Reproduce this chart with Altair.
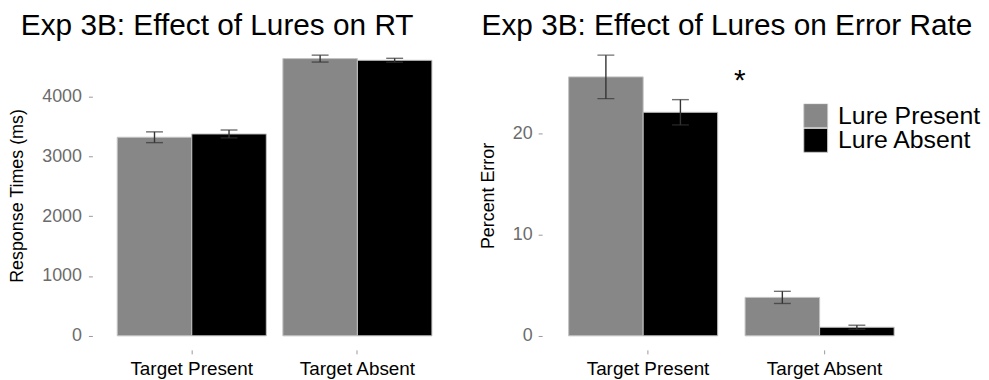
import altair as alt
import pandas as pd

conditions = ["Target Present", "Target Present", "Target Absent", "Target Absent"]
lures = ["Lure Present", "Lure Absent", "Lure Present", "Lure Absent"]
rt_mean = [3318, 3373, 4632, 4604]
rt_se = [90, 66, 58, 33]
err_mean = [25.6, 22.1, 3.8, 0.85]
err_se = [2.15, 1.25, 0.6, 0.2]

cond_order = ["Target Present", "Target Absent"]
lure_order = ["Lure Present", "Lure Absent"]
lure_colors = ["#878787", "#000000"]
rt_ticks = [0, 1000, 2000, 3000, 4000]
err_ticks = [0, 10, 20]

FONT = "Liberation Sans"


def make_df(mean, se):
    return pd.DataFrame({
        "cond": conditions,
        "lure": lures,
        "mean": mean,
        "lo": [m - s for m, s in zip(mean, se)],
        "hi": [m + s for m, s in zip(mean, se)],
    })


def panel(df, ytitle, ticks, legend, label_pad):
    top = max(df["hi"])
    dom = [-0.05 * top, 1.05 * top]
    yscale = alt.Scale(domain=dom, nice=False, zero=False)
    xenc = alt.X("cond:N", sort=cond_order,
                 scale=alt.Scale(paddingInner=0.1, paddingOuter=0.15),
                 axis=alt.Axis(title=None, labelAngle=0, labelFontSize=19,
                               labelColor="black", labelFont=FONT,
                               tickColor="#999999", tickSize=4, labelPadding=6,
                               domain=False))
    xoff = alt.XOffset("lure:N", sort=lure_order,
                       scale=alt.Scale(paddingInner=0, paddingOuter=0))
    yaxis = alt.Axis(values=ticks, title=ytitle, titleFontSize=18,
                     titleFont=FONT, titleFontWeight="normal", titleColor="black",
                     labelColor="#6b6b6b", labelFontSize=18, labelFont=FONT,
                     tickColor="#999999", tickSize=4, labelPadding=label_pad,
                     titlePadding=15, grid=False, domain=False, format="d")
    color = alt.Color("lure:N", sort=lure_order,
                      scale=alt.Scale(domain=lure_order, range=lure_colors),
                      legend=legend)
    base = alt.Chart(df)
    bars = base.mark_bar(stroke="#c4c4c4", strokeWidth=1).encode(
        x=xenc, xOffset=xoff,
        y=alt.Y("mean:Q", scale=yscale, axis=yaxis),
        y2=alt.datum(0),
        color=color,
    )
    rule = base.mark_rule(color="#333333", strokeWidth=1.4).encode(
        x=xenc, xOffset=xoff,
        y=alt.Y("lo:Q", scale=yscale, axis=yaxis),
        y2="hi:Q",
    )
    cap_lo = base.mark_tick(color="#333333", size=17, thickness=1.4).encode(
        x=xenc, xOffset=xoff,
        y=alt.Y("lo:Q", scale=yscale, axis=yaxis),
    )
    cap_hi = base.mark_tick(color="#333333", size=17, thickness=1.4).encode(
        x=xenc, xOffset=xoff,
        y=alt.Y("hi:Q", scale=yscale, axis=yaxis),
    )
    return [bars, rule, cap_lo, cap_hi], yscale, yaxis


rt_df = make_df(rt_mean, rt_se)
err_df = make_df(err_mean, err_se)

left_layers, _, _ = panel(rt_df, "Response Times (ms)", rt_ticks, None, 7)
right_legend = alt.Legend(title=None, orient="none", legendX=263, legendY=63,
                          symbolType="square", symbolSize=576,
                          symbolStrokeColor="#c4c4c4", symbolStrokeWidth=1,
                          symbolOpacity=1, labelFontSize=25, labelFont=FONT,
                          labelColor="black", labelOffset=10, rowPadding=-4,
                          clipHeight=24, padding=0)
right_layers, err_scale, err_axis = panel(err_df, "Percent Error", err_ticks, right_legend, 6)

star_df = pd.DataFrame({"label": ["*"], "val": [24.3]})
star = alt.Chart(star_df).mark_text(fontSize=30, font=FONT, color="black",
                                    baseline="alphabetic", align="center").encode(
    x=alt.value(199),
    y=alt.Y("val:Q", scale=err_scale, axis=err_axis),
    text="label:N",
)

left = alt.layer(*left_layers).properties(
    width=367, height=311,
    title=alt.TitleParams("Exp 3B: Effect of Lures on RT", fontSize=30, font=FONT,
                          fontWeight="normal", color="black", anchor="start",
                          frame="bounds", offset=0, dx=12),
)
right = alt.layer(*right_layers, star).properties(
    width=391, height=311,
    title=alt.TitleParams("Exp 3B: Effect of Lures on Error Rate", fontSize=30, font=FONT,
                          fontWeight="normal", color="black", anchor="start",
                          frame="bounds", offset=0, dx=2),
)

chart = alt.hconcat(left, right, spacing=22).resolve_scale(
    color="independent", y="independent"
).resolve_legend(color="independent").properties(
    padding={"left": 0, "top": 2, "right": 0, "bottom": 0}
).configure_view(stroke=None)

chart.save("out.html", embed_options={"renderer": "svg", "actions": False})
